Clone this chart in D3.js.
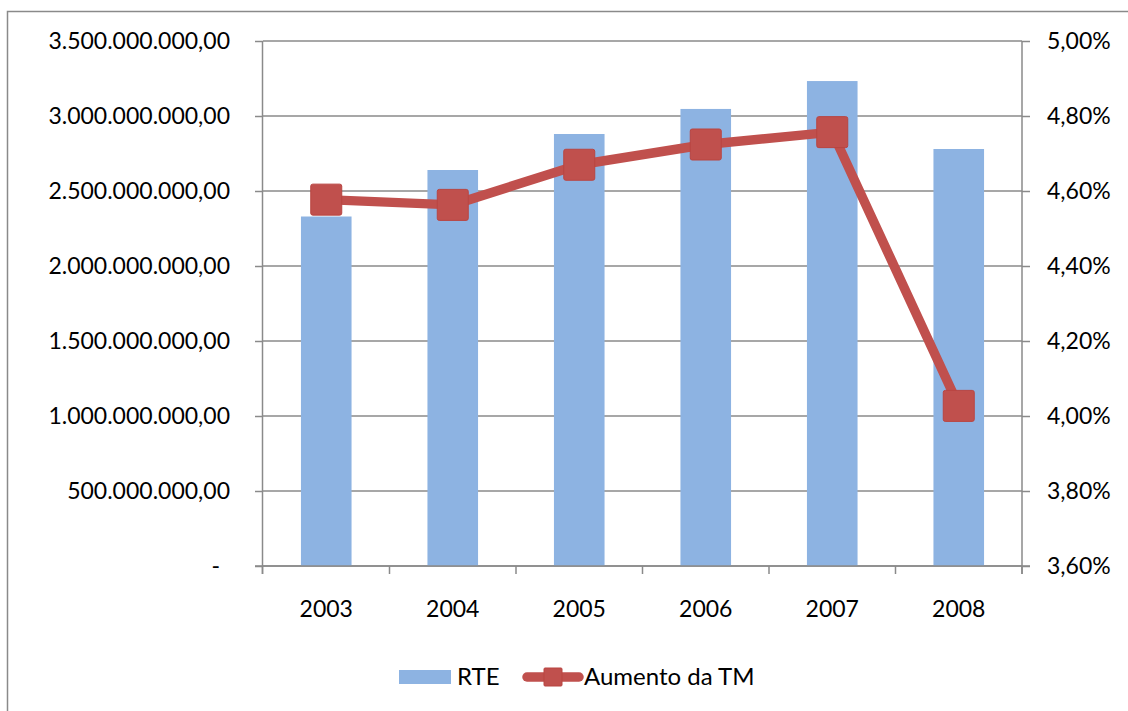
<!DOCTYPE html>
<html>
<head>
<meta charset="utf-8">
<script src="https://cdn.jsdelivr.net/npm/d3@7"></script>
<style>
  body { margin: 0; background: #fff; }
  svg { display: block; font-family: Lato, "Open Sans", sans-serif; }
  .axis text { font-size: 23px; fill: #000; }
</style>
</head>
<body>
<script>
// dados
let years = ['2003', '2004', '2005', '2006', '2007', '2008'];
let rte = [2330000000, 2640000000, 2880000000, 3047000000, 3233000000, 2780000000];
let aumentoTM = [0.04577, 0.04563, 0.04670, 0.04724, 0.04757, 0.04027];
let leftTicks = [0, 500000000, 1000000000, 1500000000, 2000000000, 2500000000, 3000000000, 3500000000];
let rightTicks = [0.036, 0.038, 0.040, 0.042, 0.044, 0.046, 0.048, 0.050];

let frame = { width: 1128, height: 711 };
let padding = { left: 263, top: 41, right: 106, bottom: 145 };
let w = frame.width - padding.left - padding.right;
let h = frame.height - padding.top - padding.bottom;

let pt = d3.formatLocale({ decimal: ',', thousands: '.', grouping: [3], currency: ['', ''] });
let fmtLeft = d => d === 0 ? '-' : pt.format(',.2f')(d);
let fmtRight = pt.format('.2%');

let svg = d3.select('body')
	.append('svg')
	.attr('width', frame.width)
	.attr('height', frame.height);

// borda do gráfico
svg.append('rect')
	.attr('x', 7.5).attr('y', 11.5)
	.attr('width', 1300).attr('height', 900)
	.attr('fill', 'none')
	.attr('stroke', '#8a8a8a')
	.attr('stroke-width', 1.5);

let g = svg.append('g')
	.attr('transform', `translate(${padding.left}, ${padding.top})`);

let xScale = d3.scaleBand()
	.domain(years)
	.range([0, w])
	.paddingInner(0.6)
	.paddingOuter(0.3);

let yLeft = d3.scaleLinear().domain([0, 3500000000]).range([h, 0]);
let yRight = d3.scaleLinear().domain([0.036, 0.050]).range([h, 0]);

// grade
g.selectAll('.grid')
	.data(leftTicks)
	.enter()
	.append('line')
	.attr('class', 'grid')
	.attr('x1', 0).attr('x2', w)
	.attr('y1', d => yLeft(d)).attr('y2', d => yLeft(d))
	.attr('stroke', '#8a8a8a')
	.attr('stroke-width', 1.5);

// barras
g.selectAll('.bar')
	.data(rte)
	.enter()
	.append('rect')
	.attr('class', 'bar')
	.attr('x', (d, i) => xScale(years[i]))
	.attr('y', d => yLeft(d))
	.attr('width', xScale.bandwidth())
	.attr('height', d => h - yLeft(d))
	.attr('fill', '#8db3e2');

// eixos
let styleAxis = sel => {
	sel.attr('font-family', null).attr('font-size', null);
	sel.selectAll('path.domain').attr('stroke', '#8a8a8a').attr('stroke-width', 1.5);
	sel.selectAll('.tick line').attr('stroke', '#8a8a8a').attr('stroke-width', 1.5);
};

let axL = g.append('g')
	.attr('class', 'axis')
	.call(d3.axisLeft(yLeft).tickValues(leftTicks).tickFormat(fmtLeft).tickSize(8).tickPadding(25).tickSizeOuter(0))
	.call(styleAxis);
axL.select('path.domain').attr('d', `M-0.5,0V${h + 8}`);
axL.selectAll('.tick text').filter(d => d === 0).attr('dx', -10);

let axR = g.append('g')
	.attr('class', 'axis')
	.attr('transform', `translate(${w}, 0)`)
	.call(d3.axisRight(yRight).tickValues(rightTicks).tickFormat(fmtRight).tickSize(8).tickPadding(17).tickSizeOuter(0))
	.call(styleAxis);
axR.select('path.domain').attr('d', `M0,0V${h + 8}`);

let axB = g.append('g')
	.attr('class', 'axis')
	.attr('transform', `translate(0, ${h})`)
	.call(d3.axisBottom(xScale).tickSize(0).tickPadding(35))
	.call(styleAxis);
axB.select('path.domain').attr('d', `M-8,0H${w + 8}`);

// marcas entre categorias
g.selectAll('.xtick')
	.data(d3.range(years.length + 1))
	.enter()
	.append('line')
	.attr('class', 'xtick')
	.attr('x1', i => i * xScale.step() - (i === 0 ? 0.5 : 0))
	.attr('x2', i => i * xScale.step() - (i === 0 ? 0.5 : 0))
	.attr('y1', h).attr('y2', h + 8)
	.attr('stroke', '#8a8a8a')
	.attr('stroke-width', 1.5);

// linha
let cx = i => xScale(years[i]) + xScale.bandwidth() / 2;
let line = d3.line()
	.x((d, i) => cx(i))
	.y(d => yRight(d));

g.append('path')
	.datum(aumentoTM)
	.attr('d', line)
	.attr('fill', 'none')
	.attr('stroke', '#c0504d')
	.attr('stroke-width', 9.5)
	.attr('stroke-linejoin', 'round')
	.attr('stroke-linecap', 'round');

let mk = 31;
g.selectAll('.marker')
	.data(aumentoTM)
	.enter()
	.append('rect')
	.attr('class', 'marker')
	.attr('x', (d, i) => cx(i) - mk / 2)
	.attr('y', d => yRight(d) - mk / 2)
	.attr('width', mk).attr('height', mk)
	.attr('rx', 2)
	.attr('fill', '#c0504d')
	.attr('stroke', '#b94441')
	.attr('stroke-width', 1);

// legenda
let leg = svg.append('g').attr('transform', 'translate(0, 677)');
leg.append('rect')
	.attr('x', 399).attr('y', -7)
	.attr('width', 52).attr('height', 14)
	.attr('fill', '#8db3e2');
leg.append('text')
	.attr('x', 457).attr('y', 8)
	.attr('font-size', 24)
	.text('RTE');
leg.append('line')
	.attr('x1', 527).attr('x2', 579)
	.attr('y1', 0).attr('y2', 0)
	.attr('stroke', '#c0504d')
	.attr('stroke-width', 9.5)
	.attr('stroke-linecap', 'round');
leg.append('rect')
	.attr('x', 544).attr('y', -9)
	.attr('width', 18).attr('height', 18)
	.attr('rx', 1)
	.attr('fill', '#c0504d')
	.attr('stroke', '#b94441');
leg.append('text')
	.attr('x', 584).attr('y', 8)
	.attr('font-size', 24)
	.text('Aumento da TM');
</script>
</body>
</html>
